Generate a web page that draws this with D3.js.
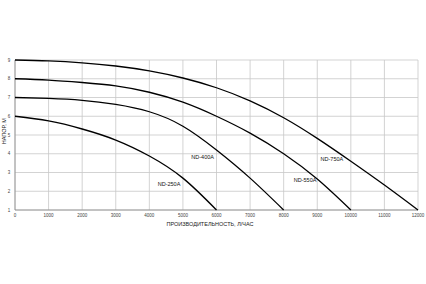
<!DOCTYPE html>
<html>
<head>
<meta charset="utf-8">
<script src="https://cdn.jsdelivr.net/npm/d3@7"></script>
<style>
  body { margin: 0; background: #fff; }
  text { font-family: Arial, "Liberation Sans", sans-serif; }
</style>
</head>
<body>
<div id="chart"></div>
<script>
// Данные (расход л/ч -> напор м)
const flowTicks = [0, 1000, 2000, 3000, 4000, 5000, 6000, 7000, 8000, 9000, 10000, 11000, 12000];
const headTicks = [1, 2, 3, 4, 5, 6, 7, 8, 9];

const pumpNames = ["ND-250A", "ND-400A", "ND-550A", "ND-750A"];
const flow250 = [0, 1000, 2000, 3000, 4000, 5000, 6000];
const head250 = [6, 5.75, 5.32, 4.73, 3.88, 2.7, 1];
const flow400 = [0, 1000, 2000, 3000, 4000, 5000, 6000, 7000, 8000];
const head400 = [7, 6.95, 6.85, 6.63, 6.24, 5.47, 4.2, 2.7, 1];
const flow550 = [0, 1000, 2000, 3000, 4000, 5000, 6000, 7000, 8000, 9000, 10000];
const head550 = [8, 7.93, 7.8, 7.62, 7.28, 6.75, 6.0, 5.1, 4.0, 2.65, 1];
const flow750 = [0, 1000, 2000, 3000, 4000, 5000, 6000, 7000, 8000, 9000, 10000, 11000, 12000];
const head750 = [9, 8.95, 8.85, 8.68, 8.42, 8.04, 7.52, 6.82, 5.92, 4.82, 3.6, 2.33, 1];

// Позиции подписей кривых (в единицах данных)
const labelFlow = [4250, 5250, 8300, 9100];
const labelHead = [2.3, 3.7, 2.5, 3.6];

const width = 426, height = 284;
const margin = { top: 60, left: 15, right: 8, bottom: 74 };

const svg = d3.select("#chart").append("svg")
  .attr("width", width)
  .attr("height", height);

const x = d3.scaleLinear().domain([0, 12000]).range([margin.left, width - margin.right]);
const y = d3.scaleLinear().domain([1, 9]).range([height - margin.bottom, margin.top]);

// Сетка
svg.append("g").selectAll("line.v")
  .data(flowTicks).enter().append("line")
  .attr("x1", d => x(d)).attr("x2", d => x(d))
  .attr("y1", y(9)).attr("y2", y(1))
  .attr("stroke", "#c8c8c8").attr("stroke-width", 0.8);

svg.append("g").selectAll("line.h")
  .data(headTicks).enter().append("line")
  .attr("x1", x(0)).attr("x2", x(12000))
  .attr("y1", d => y(d)).attr("y2", d => y(d))
  .attr("stroke", "#c8c8c8").attr("stroke-width", 0.8);

// Оси
svg.append("line")
  .attr("x1", x(0)).attr("x2", x(0)).attr("y1", y(9)).attr("y2", y(1))
  .attr("stroke", "#888").attr("stroke-width", 0.8);
svg.append("line")
  .attr("x1", x(0)).attr("x2", x(12000)).attr("y1", y(1)).attr("y2", y(1))
  .attr("stroke", "#888").attr("stroke-width", 0.8);

// Подписи делений
svg.append("g").selectAll("text")
  .data(flowTicks).enter().append("text")
  .attr("x", d => x(d)).attr("y", y(1) + 7)
  .attr("text-anchor", "middle")
  .attr("font-size", "4.5px").attr("fill", "#444")
  .text(d => d);

svg.append("g").selectAll("text")
  .data(headTicks).enter().append("text")
  .attr("x", x(0) - 6).attr("y", d => y(d) + 1.5)
  .attr("text-anchor", "middle")
  .attr("font-size", "4.5px").attr("fill", "#444")
  .text(d => d);

// Названия осей
svg.append("text")
  .attr("x", 210).attr("y", y(1) + 16)
  .attr("text-anchor", "middle")
  .attr("font-size", "5.5px").attr("fill", "#222")
  .text("ПРОИЗВОДИТЕЛЬНОСТЬ,  Л/ЧАС");

svg.append("text")
  .attr("transform", `translate(6,${y(5.2)}) rotate(-90)`)
  .attr("text-anchor", "middle")
  .attr("font-size", "5.5px").attr("fill", "#222")
  .text("НАПОР, М");

// Кривые
const curves = [
  [flow250, head250],
  [flow400, head400],
  [flow550, head550],
  [flow750, head750]
];

const line = d3.line()
  .x(d => x(d[0]))
  .y(d => y(d[1]))
  .curve(d3.curveNatural);

curves.forEach((c, i) => {
  const pts = c[0].map((f, j) => [f, c[1][j]]);
  svg.append("path")
    .datum(pts)
    .attr("d", line)
    .attr("fill", "none")
    .attr("stroke", "#000")
    .attr("stroke-width", 1.3);

  svg.append("text")
    .attr("x", x(labelFlow[i])).attr("y", y(labelHead[i]))
    .attr("font-size", "5.5px").attr("fill", "#111")
    .text(pumpNames[i]);
});
</script>
</body>
</html>
